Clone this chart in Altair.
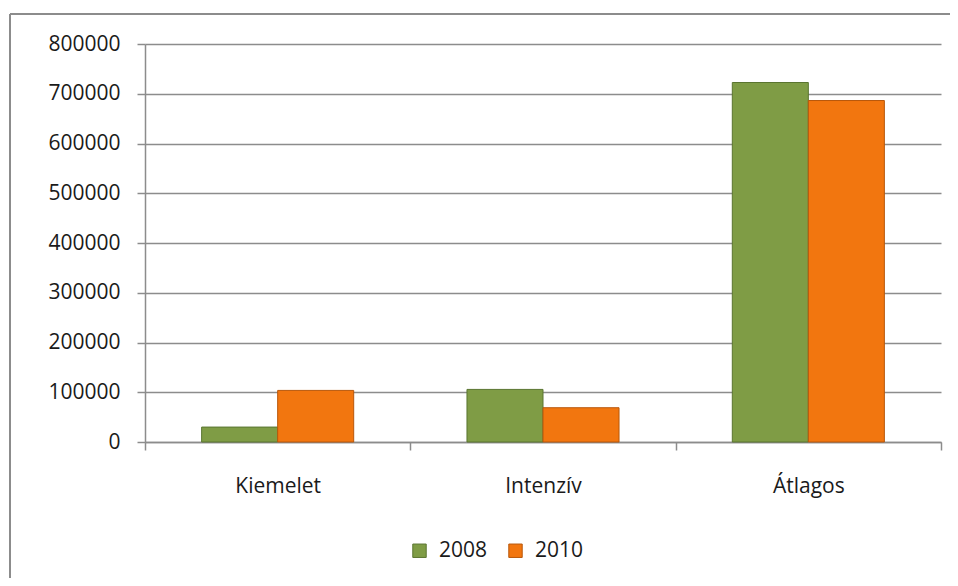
import altair as alt
import pandas as pd

categories = ["Kiemelet", "Intenzív", "Átlagos"]
years = ["2008", "2010"]
v2008 = [30000, 105700, 722600]
v2010 = [103700, 68900, 686400]
y_ticks = [0, 100000, 200000, 300000, 400000, 500000, 600000, 700000, 800000]

colors = ["#7F9C45", "#F2760F"]
edges = ["#5A7530", "#B8570A"]

rows = []
for c, a, b in zip(categories, v2008, v2010):
    rows.append({"cat": c, "year": years[0], "value": a})
    rows.append({"cat": c, "year": years[1], "value": b})
df = pd.DataFrame(rows)

FONT = "Open Sans"
FS = 21
GRAY = "#8c8c8c"

one = pd.DataFrame({"k": [0]})
frame_top = alt.Chart(one).mark_rule(stroke=GRAY, strokeWidth=2).encode(
    x=alt.value(-135), x2=alt.value(900), y=alt.value(-30)
)
frame_left = alt.Chart(one).mark_rule(stroke=GRAY, strokeWidth=2).encode(
    x=alt.value(-135), y=alt.value(-30), y2=alt.value(700)
)

bars = alt.Chart(df).mark_bar(strokeWidth=1).encode(
    x=alt.X(
        "cat:N",
        sort=categories,
        scale=alt.Scale(paddingInner=0, paddingOuter=0),
        axis=alt.Axis(
            title=None, labelAngle=0, tickBand="extent", tickSize=8,
            labelPadding=25, labelFontSize=FS, labelFont=FONT,
            labelColor="#1a1a1a", domainColor=GRAY, tickColor=GRAY,
            domainWidth=1.5, tickWidth=1.5, grid=False,
        ),
    ),
    xOffset=alt.XOffset(
        "year:N", sort=years, scale=alt.Scale(paddingInner=0, paddingOuter=0.745)
    ),
    y=alt.Y(
        "value:Q",
        scale=alt.Scale(domain=[0, 800000]),
        axis=alt.Axis(
            title=None, values=y_ticks, format="d", tickSize=8,
            labelPadding=17, labelFontSize=FS, labelFont=FONT,
            labelColor="#1a1a1a", domainColor=GRAY, tickColor=GRAY,
            gridColor=GRAY, gridWidth=1.5, domainWidth=1.5, tickWidth=1.5,
        ),
    ),
    color=alt.Color(
        "year:N",
        scale=alt.Scale(domain=years, range=colors),
        legend=alt.Legend(
            title=None, orient="none", legendX=264, legendY=496,
            direction="horizontal", symbolType="square", symbolSize=180,
            labelFontSize=FS, labelFont=FONT, labelColor="#1a1a1a",
            columnPadding=17, labelOffset=9, symbolStrokeWidth=1,
        ),
    ),
    stroke=alt.Stroke(
        "year:N", scale=alt.Scale(domain=years, range=edges), legend=None
    ),
)

chart = alt.layer(frame_top, frame_left, bars).properties(
    width=796,
    height=398,
    autosize=alt.AutoSizeParams(type="none"),
    padding={"left": 137, "top": 36, "right": 9, "bottom": 136},
).configure_view(stroke=None)

chart.save("out.html", embed_options={"renderer": "svg", "actions": False})
